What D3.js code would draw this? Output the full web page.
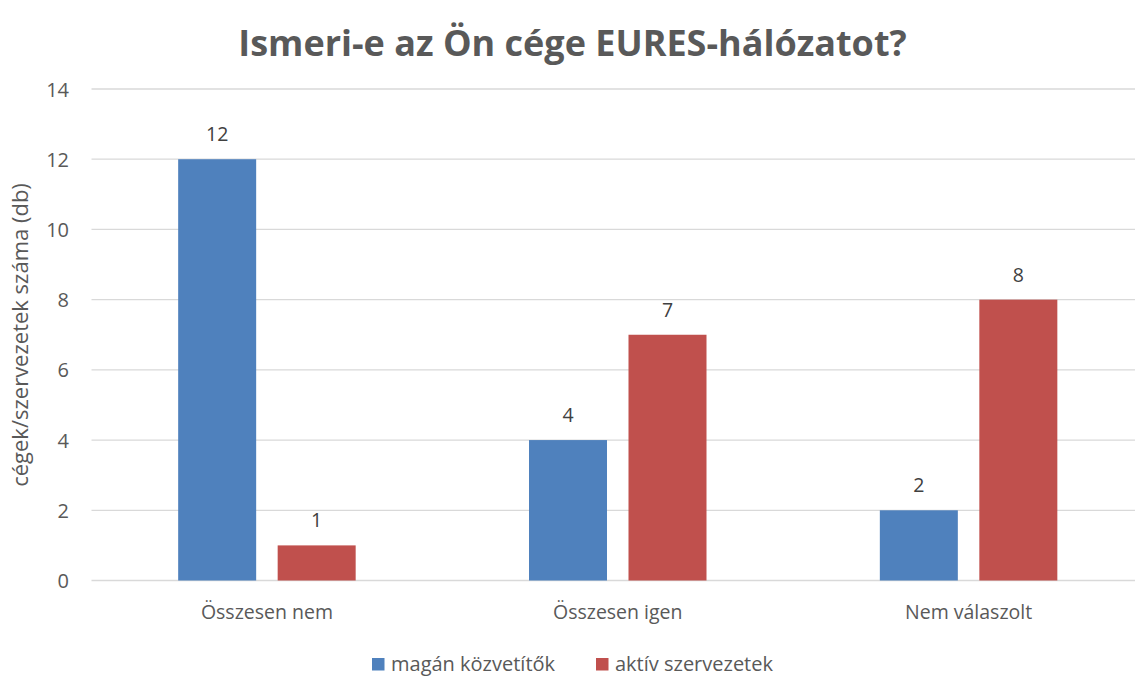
<!DOCTYPE html>
<html><head><meta charset="utf-8">
<script src="https://cdn.jsdelivr.net/npm/d3@7"></script>
<style>body{margin:0;background:#fff}svg{display:block}</style>
</head><body><svg id="c" width="1135" height="677"></svg>
<script>
const categories = ["Összesen nem", "Összesen igen", "Nem válaszolt"];
const seriesNames = ["magán közvetítők", "aktív szervezetek"];
const maganValues = [12, 4, 2];
const aktivValues = [1, 7, 8];
const yTicks = [0, 2, 4, 6, 8, 10, 12, 14];
const colors = ["#4F81BD", "#C0504D"];
const FONT = "'Open Sans', sans-serif";

const svg = d3.select("#c");
const pLeft = 91.5, pRight = 1144, pTop = 89, pBottom = 580.5;
const x = d3.scaleBand().domain(categories).range([pLeft, pRight]).paddingInner(0).paddingOuter(0);
const y = d3.scaleLinear().domain([0, 14]).range([pBottom, pTop]);
const barW = 78, gap = 21.5;

// gridlines
svg.append("g").selectAll("line").data(yTicks).join("line")
  .attr("x1", pLeft).attr("x2", 1135).attr("y1", d => y(d)).attr("y2", d => y(d))
  .attr("stroke", "#D9D9D9").attr("stroke-width", 1.3);

// y axis labels
const yAxis = d3.axisLeft(y).tickValues(yTicks).tickSize(0).tickPadding(0);
const ga = svg.append("g").attr("transform", `translate(69,0)`).call(yAxis);
ga.select(".domain").remove();
ga.selectAll("text").attr("font-family", FONT).attr("font-size", 20).attr("fill", "#595959").attr("dy", "0.35em");

// x axis labels
const xAxis = d3.axisBottom(x).tickSize(0).tickPadding(0);
const gx = svg.append("g").attr("transform", `translate(0,${pBottom})`).call(xAxis);
gx.select(".domain").remove();
gx.selectAll("text").attr("font-family", FONT).attr("font-size", 19.5).attr("fill", "#595959").attr("dy", 0).attr("y", 38);

const series = [maganValues, aktivValues];
series.forEach((vals, si) => {
  const off = si === 0 ? -(gap / 2 + barW) : gap / 2;
  const g = svg.append("g");
  g.selectAll("rect").data(vals).join("rect")
    .attr("x", (d, i) => x(categories[i]) + x.bandwidth() / 2 + off)
    .attr("y", d => y(d)).attr("width", barW).attr("height", d => y(0) - y(d))
    .attr("fill", colors[si]);
  g.selectAll("text").data(vals).join("text")
    .attr("x", (d, i) => x(categories[i]) + x.bandwidth() / 2 + off + barW / 2)
    .attr("y", d => y(d) - 18).attr("text-anchor", "middle")
    .attr("font-family", FONT).attr("font-size", 19.5).attr("fill", "#404040").text(d => d);
});

// title
svg.append("text").attr("x", 572.5).attr("y", 56).attr("text-anchor", "middle")
  .attr("font-family", FONT).attr("font-weight", "bold").attr("font-size", 36).attr("fill", "#595959")
  .text("Ismeri-e az Ön cége EURES-hálózatot?");

// y title
svg.append("text").attr("transform", "translate(28,335) rotate(-90)").attr("text-anchor", "middle")
  .attr("font-family", FONT).attr("font-size", 22).attr("fill", "#595959")
  .text("cégek/szervezetek száma (db)");

// legend
const legX = [372, 596];
seriesNames.forEach((n, i) => {
  svg.append("rect").attr("x", legX[i]).attr("y", 658).attr("width", 12.5).attr("height", 12.5).attr("fill", colors[i]);
  svg.append("text").attr("x", legX[i] + 19).attr("y", 670.5).attr("font-family", FONT).attr("font-size", 20)
    .attr("fill", "#595959").text(n);
});
</script></body></html>
